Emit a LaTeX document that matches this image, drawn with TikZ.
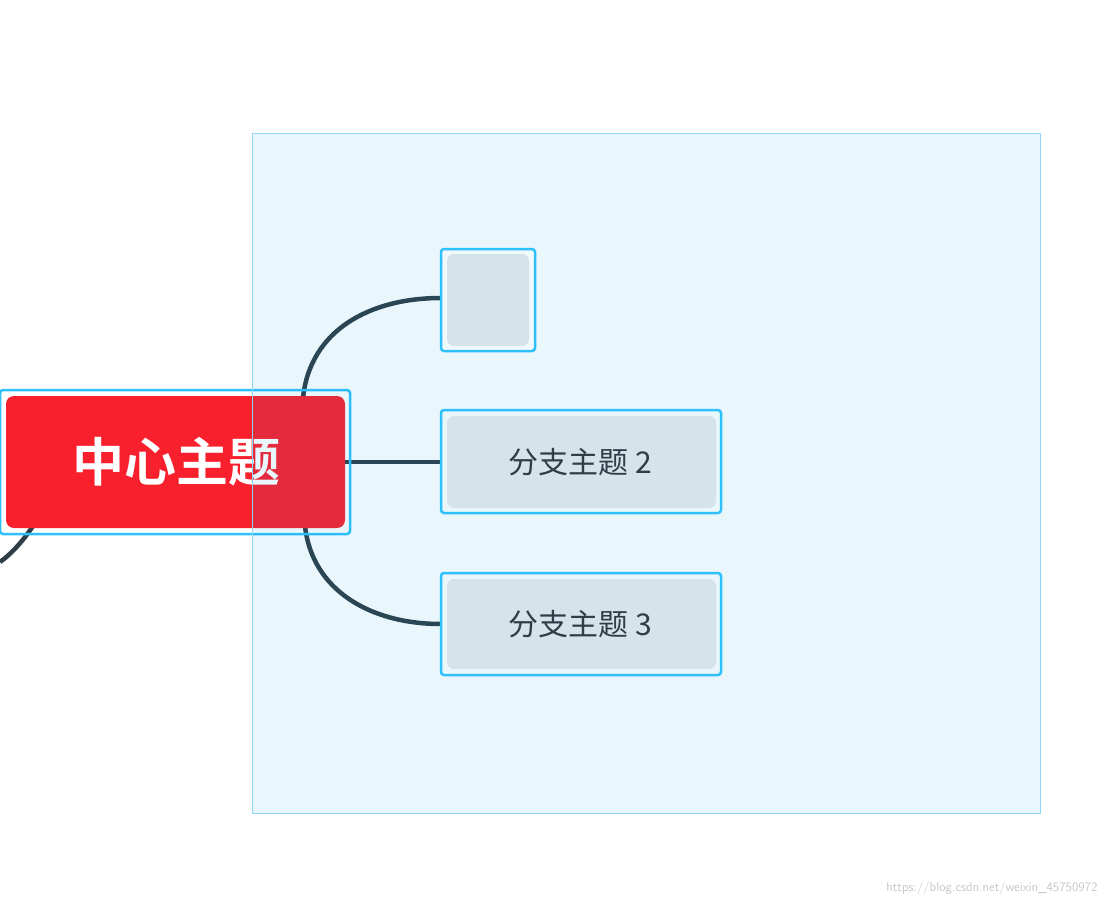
\documentclass[tikz,border=0pt]{standalone}
\usepackage{fontspec}
\newfontfamily\cjk{Noto Sans CJK SC}[BoldFont={Noto Sans CJK SC Bold}]
\definecolor{selb}{HTML}{2EC0FA}
\definecolor{brfill}{HTML}{D5E3EA}
\definecolor{lnk}{HTML}{2E3D46}
\definecolor{redc}{HTML}{F9202E}
\begin{document}
\begin{tikzpicture}[x=1pt,y=-1pt,
  conn/.style={draw=lnk,line width=4.5pt},
  outerb/.style={draw=selb,line width=2.5pt,rounded corners=3pt},
  innerf/.style={fill=brfill,rounded corners=7pt},
  btxt/.style={font=\cjk\fontsize{30}{30}\selectfont,text=lnk}]
\useasboundingbox (0,0) rectangle (1109,907);
% connectors
\draw[conn] (303,398) .. controls (310,330) and (370,298) .. (441,298);
\draw[conn] (305,526) .. controls (312,590) and (370,624) .. (441,624);
\draw[conn] (345,462) -- (441,462);
\draw[conn] (38,518) .. controls (25,540) and (10,555) .. (0,562);
% central
\draw[outerb] (0,390) rectangle (350,534);
\fill[redc,rounded corners=8pt] (6,396) rectangle (345,528);
\node (c) at (176,462) {\cjk\bfseries\fontsize{52}{52}\selectfont\textcolor{white}{中心主题}};
% selection
\draw[draw={rgb,255:red,143;green,216;blue,248},line width=1pt,fill={rgb,255:red,0;green,160;blue,230},fill opacity=0.085] (252,133) rectangle (1040,813);
% branches
\draw[outerb,fill=white,fill opacity=0.3] (441,249) rectangle (535,351);
\fill[innerf] (447,254) rectangle (529,346);
\draw[outerb] (441,410) rectangle (721,513);
\fill[innerf] (447,416) rectangle (716,508);
\node[btxt] (b2) at (580,462) {分支主题 2};
\draw[outerb] (441,573) rectangle (721,675);
\fill[innerf] (447,579) rectangle (716,669);
\node[btxt] (b3) at (580,624) {分支主题 3};
\node[anchor=east,text=gray!45,font=\fontsize{13}{13}\selectfont\sffamily] (wm) at (1101,888) {https://blog.csdn.net/weixin\_45750972};
\end{tikzpicture}
\end{document}
